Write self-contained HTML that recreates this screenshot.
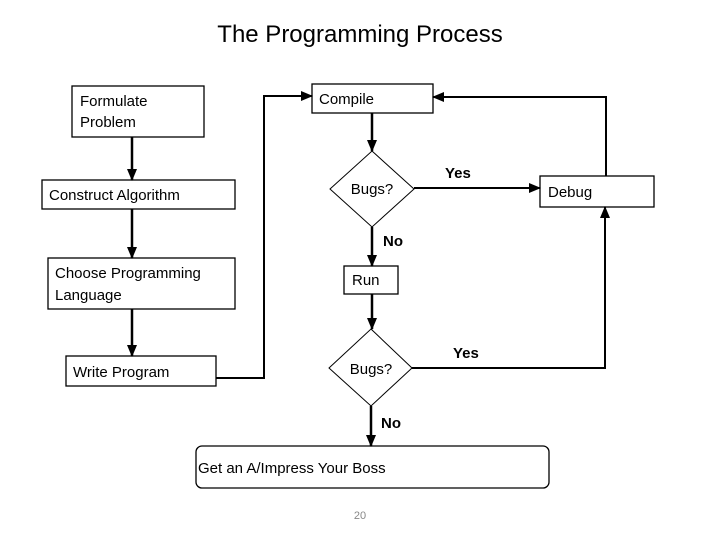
<!DOCTYPE html>
<html><head><style>
body{margin:0;background:#fff;width:720px;height:540px;overflow:hidden}
svg text{font-family:"Liberation Sans",sans-serif;fill:#000}
</style></head><body>
<svg width="720" height="540" viewBox="0 0 720 540" xmlns="http://www.w3.org/2000/svg">
<defs>
<marker id="b" markerWidth="12" markerHeight="10" refX="11" refY="5" orient="auto" markerUnits="userSpaceOnUse" viewBox="0 0 12 10"><path d="M0,0 L12,5 L0,10 z" fill="#000"/></marker></defs>
<text x="360" y="42" font-size="24" text-anchor="middle">The Programming Process</text>
<g fill="none" stroke="#000" stroke-width="1.3">
<rect x="72" y="86" width="132" height="51"/>
<rect x="42" y="180" width="193" height="29"/>
<rect x="48" y="258" width="187" height="51"/>
<rect x="66" y="356" width="150" height="30"/>
<rect x="312" y="84" width="121" height="29"/>
<rect x="540" y="176" width="114" height="31"/>
<rect x="344" y="266" width="54" height="28"/>
<rect x="196" y="446" width="353" height="42" rx="6"/>
<path d="M372,151 L414,189 L372,227 L330,189 Z" stroke-width="1"/>
<path d="M371,329 L412,368 L371,406 L329,368 Z" stroke-width="1"/>
</g>
<g fill="none" stroke="#000" stroke-width="2.5">
<line x1="132" y1="137" x2="132" y2="180" marker-end="url(#b)"/>
<line x1="132" y1="209" x2="132" y2="258" marker-end="url(#b)"/>
<line x1="132" y1="309" x2="132" y2="356" marker-end="url(#b)"/>
<line x1="372" y1="113" x2="372" y2="151" marker-end="url(#b)"/>
<line x1="372" y1="227" x2="372" y2="266" marker-end="url(#b)"/>
<line x1="372" y1="294" x2="372" y2="329" marker-end="url(#b)"/>
<line x1="371" y1="406" x2="371" y2="446" marker-end="url(#b)"/>
</g>
<g fill="none" stroke="#000" stroke-width="2">
<polyline points="216,378 264,378 264,96 312,96" marker-end="url(#b)"/>
<polyline points="606,176 606,97 433,97" marker-end="url(#b)"/>
<line x1="414" y1="188" x2="540" y2="188" marker-end="url(#b)"/>
<polyline points="412,368 605,368 605,207" marker-end="url(#b)"/>
</g>
<g font-size="15">
<text x="80" y="106">Formulate</text><text x="80" y="127">Problem</text>
<text x="49" y="200">Construct Algorithm</text>
<text x="55" y="278">Choose Programming</text><text x="55" y="300">Language</text>
<text x="73" y="377">Write Program</text>
<text x="319" y="104">Compile</text>
<text x="372" y="194" text-anchor="middle">Bugs?</text>
<text x="371" y="374" text-anchor="middle">Bugs?</text>
<text x="352" y="285">Run</text>
<text x="548" y="197">Debug</text>
<text x="198" y="473">Get an A/Impress Your Boss</text>
<g font-weight="bold">
<text x="445" y="178">Yes</text>
<text x="383" y="246">No</text>
<text x="453" y="358">Yes</text>
<text x="381" y="428">No</text>
</g>
</g>
<text x="360" y="519" font-size="11" text-anchor="middle" style="fill:#888">20</text>
</svg>
</body></html>
